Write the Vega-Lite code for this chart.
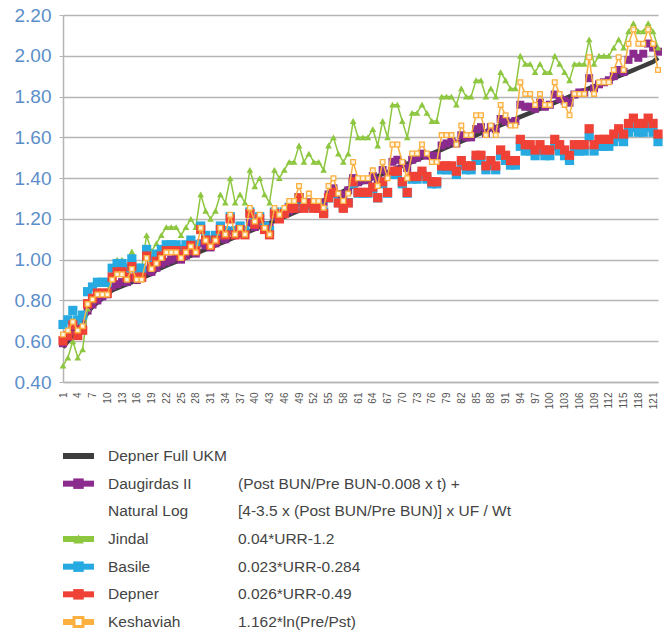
{
"$schema": "https://vega.github.io/schema/vega-lite/v6.json",
"padding": {"left": 14, "top": 6, "right": 4, "bottom": 0},
"background": "white",
"config": {"view": {"stroke": null}, "font": "Liberation Sans", "concat": {"spacing": 40}},
"datasets": {
"kt": [
{"i":1,"ukm":0.57,"daug":0.59,"jin":0.48,"bas":0.682,"dep":0.602,"kes":0.633},
{"i":2,"ukm":0.60,"daug":0.62,"jin":0.52,"bas":0.705,"dep":0.628,"kes":0.653},
{"i":3,"ukm":0.63,"daug":0.65,"jin":0.60,"bas":0.751,"dep":0.680,"kes":0.695},
{"i":4,"ukm":0.66,"daug":0.66,"jin":0.52,"bas":0.705,"dep":0.628,"kes":0.653},
{"i":5,"ukm":0.70,"daug":0.69,"jin":0.56,"bas":0.728,"dep":0.654,"kes":0.674},
{"i":6,"ukm":0.74,"daug":0.75,"jin":0.76,"bas":0.843,"dep":0.784,"kes":0.782},
{"i":7,"ukm":0.77,"daug":0.78,"jin":0.80,"bas":0.866,"dep":0.810,"kes":0.805},
{"i":8,"ukm":0.79,"daug":0.80,"jin":0.84,"bas":0.889,"dep":0.836,"kes":0.829},
{"i":9,"ukm":0.81,"daug":0.82,"jin":0.84,"bas":0.889,"dep":0.836,"kes":0.829},
{"i":10,"ukm":0.83,"daug":0.83,"jin":0.84,"bas":0.889,"dep":0.836,"kes":0.829},
{"i":11,"ukm":0.85,"daug":0.87,"jin":0.96,"bas":0.958,"dep":0.914,"kes":0.902},
{"i":12,"ukm":0.86,"daug":0.88,"jin":1.00,"bas":0.981,"dep":0.940,"kes":0.928},
{"i":13,"ukm":0.87,"daug":0.89,"jin":1.00,"bas":0.981,"dep":0.940,"kes":0.928},
{"i":14,"ukm":0.88,"daug":0.89,"jin":0.96,"bas":0.958,"dep":0.914,"kes":0.902},
{"i":15,"ukm":0.89,"daug":0.91,"jin":1.04,"bas":1.004,"dep":0.966,"kes":0.954},
{"i":16,"ukm":0.90,"daug":0.90,"jin":0.96,"bas":0.958,"dep":0.914,"kes":0.902},
{"i":17,"ukm":0.91,"daug":0.91,"jin":0.96,"bas":0.958,"dep":0.914,"kes":0.902},
{"i":18,"ukm":0.92,"daug":0.95,"jin":1.12,"bas":1.050,"dep":1.018,"kes":1.008},
{"i":19,"ukm":0.93,"daug":0.94,"jin":1.04,"bas":1.004,"dep":0.966,"kes":0.954},
{"i":20,"ukm":0.95,"daug":0.96,"jin":1.08,"bas":1.027,"dep":0.992,"kes":0.981},
{"i":21,"ukm":0.96,"daug":0.98,"jin":1.12,"bas":1.050,"dep":1.018,"kes":1.008},
{"i":22,"ukm":0.97,"daug":0.99,"jin":1.16,"bas":1.073,"dep":1.044,"kes":1.036},
{"i":23,"ukm":0.98,"daug":1.00,"jin":1.16,"bas":1.073,"dep":1.044,"kes":1.036},
{"i":24,"ukm":0.99,"daug":1.01,"jin":1.16,"bas":1.073,"dep":1.044,"kes":1.036},
{"i":25,"ukm":1.00,"daug":1.00,"jin":1.12,"bas":1.050,"dep":1.018,"kes":1.008},
{"i":26,"ukm":1.01,"daug":1.02,"jin":1.16,"bas":1.073,"dep":1.044,"kes":1.036},
{"i":27,"ukm":1.02,"daug":1.04,"jin":1.20,"bas":1.096,"dep":1.070,"kes":1.065},
{"i":28,"ukm":1.03,"daug":1.03,"jin":1.16,"bas":1.073,"dep":1.044,"kes":1.036},
{"i":29,"ukm":1.04,"daug":1.08,"jin":1.32,"bas":1.165,"dep":1.148,"kes":1.155},
{"i":30,"ukm":1.05,"daug":1.07,"jin":1.24,"bas":1.119,"dep":1.096,"kes":1.094},
{"i":31,"ukm":1.06,"daug":1.06,"jin":1.20,"bas":1.096,"dep":1.070,"kes":1.065},
{"i":32,"ukm":1.07,"daug":1.08,"jin":1.24,"bas":1.119,"dep":1.096,"kes":1.094},
{"i":33,"ukm":1.08,"daug":1.11,"jin":1.32,"bas":1.165,"dep":1.148,"kes":1.155},
{"i":34,"ukm":1.09,"daug":1.10,"jin":1.28,"bas":1.142,"dep":1.122,"kes":1.124},
{"i":35,"ukm":1.10,"daug":1.14,"jin":1.40,"bas":1.211,"dep":1.200,"kes":1.220},
{"i":36,"ukm":1.11,"daug":1.12,"jin":1.28,"bas":1.142,"dep":1.122,"kes":1.124},
{"i":37,"ukm":1.12,"daug":1.13,"jin":1.32,"bas":1.165,"dep":1.148,"kes":1.155},
{"i":38,"ukm":1.13,"daug":1.13,"jin":1.28,"bas":1.142,"dep":1.122,"kes":1.124},
{"i":39,"ukm":1.14,"daug":1.18,"jin":1.44,"bas":1.234,"dep":1.226,"kes":1.254},
{"i":40,"ukm":1.15,"daug":1.16,"jin":1.36,"bas":1.188,"dep":1.174,"kes":1.187},
{"i":41,"ukm":1.16,"daug":1.18,"jin":1.40,"bas":1.211,"dep":1.200,"kes":1.220},
{"i":42,"ukm":1.17,"daug":1.17,"jin":1.32,"bas":1.165,"dep":1.148,"kes":1.155},
{"i":43,"ukm":1.18,"daug":1.16,"jin":1.28,"bas":1.142,"dep":1.122,"kes":1.124},
{"i":44,"ukm":1.19,"daug":1.21,"jin":1.44,"bas":1.234,"dep":1.226,"kes":1.254},
{"i":45,"ukm":1.20,"daug":1.21,"jin":1.40,"bas":1.211,"dep":1.200,"kes":1.220},
{"i":46,"ukm":1.21,"daug":1.23,"jin":1.44,"bas":1.234,"dep":1.226,"kes":1.254},
{"i":47,"ukm":1.22,"daug":1.24,"jin":1.48,"bas":1.257,"dep":1.252,"kes":1.288},
{"i":48,"ukm":1.23,"daug":1.25,"jin":1.48,"bas":1.257,"dep":1.252,"kes":1.288},
{"i":49,"ukm":1.24,"daug":1.28,"jin":1.56,"bas":1.303,"dep":1.304,"kes":1.361},
{"i":50,"ukm":1.25,"daug":1.26,"jin":1.48,"bas":1.257,"dep":1.252,"kes":1.288},
{"i":51,"ukm":1.26,"daug":1.28,"jin":1.52,"bas":1.280,"dep":1.278,"kes":1.324},
{"i":52,"ukm":1.27,"daug":1.28,"jin":1.48,"bas":1.257,"dep":1.252,"kes":1.288},
{"i":53,"ukm":1.28,"daug":1.28,"jin":1.48,"bas":1.257,"dep":1.252,"kes":1.288},
{"i":54,"ukm":1.29,"daug":1.28,"jin":1.44,"bas":1.234,"dep":1.226,"kes":1.254},
{"i":55,"ukm":1.305,"daug":1.32,"jin":1.56,"bas":1.303,"dep":1.304,"kes":1.361},
{"i":56,"ukm":1.315,"daug":1.35,"jin":1.60,"bas":1.326,"dep":1.330,"kes":1.399},
{"i":57,"ukm":1.325,"daug":1.32,"jin":1.52,"bas":1.280,"dep":1.278,"kes":1.324},
{"i":58,"ukm":1.335,"daug":1.32,"jin":1.48,"bas":1.257,"dep":1.252,"kes":1.288},
{"i":59,"ukm":1.35,"daug":1.34,"jin":1.52,"bas":1.280,"dep":1.278,"kes":1.324},
{"i":60,"ukm":1.36,"daug":1.40,"jin":1.68,"bas":1.372,"dep":1.382,"kes":1.479},
{"i":61,"ukm":1.37,"daug":1.38,"jin":1.60,"bas":1.326,"dep":1.330,"kes":1.399},
{"i":62,"ukm":1.38,"daug":1.39,"jin":1.60,"bas":1.326,"dep":1.330,"kes":1.399},
{"i":63,"ukm":1.39,"daug":1.39,"jin":1.60,"bas":1.326,"dep":1.330,"kes":1.399},
{"i":64,"ukm":1.40,"daug":1.41,"jin":1.64,"bas":1.349,"dep":1.356,"kes":1.438},
{"i":65,"ukm":1.41,"daug":1.39,"jin":1.56,"bas":1.303,"dep":1.304,"kes":1.361},
{"i":66,"ukm":1.42,"daug":1.44,"jin":1.68,"bas":1.372,"dep":1.382,"kes":1.479},
{"i":67,"ukm":1.43,"daug":1.42,"jin":1.60,"bas":1.326,"dep":1.330,"kes":1.399},
{"i":68,"ukm":1.44,"daug":1.48,"jin":1.76,"bas":1.418,"dep":1.434,"kes":1.565},
{"i":69,"ukm":1.45,"daug":1.49,"jin":1.76,"bas":1.418,"dep":1.434,"kes":1.565},
{"i":70,"ukm":1.46,"daug":1.47,"jin":1.68,"bas":1.372,"dep":1.382,"kes":1.479},
{"i":71,"ukm":1.47,"daug":1.45,"jin":1.60,"bas":1.326,"dep":1.330,"kes":1.399},
{"i":72,"ukm":1.48,"daug":1.49,"jin":1.72,"bas":1.395,"dep":1.408,"kes":1.521},
{"i":73,"ukm":1.49,"daug":1.50,"jin":1.72,"bas":1.395,"dep":1.408,"kes":1.521},
{"i":74,"ukm":1.50,"daug":1.52,"jin":1.76,"bas":1.418,"dep":1.434,"kes":1.565},
{"i":75,"ukm":1.51,"daug":1.51,"jin":1.72,"bas":1.395,"dep":1.408,"kes":1.521},
{"i":76,"ukm":1.52,"daug":1.51,"jin":1.68,"bas":1.372,"dep":1.382,"kes":1.479},
{"i":77,"ukm":1.53,"daug":1.51,"jin":1.68,"bas":1.372,"dep":1.382,"kes":1.479},
{"i":78,"ukm":1.54,"daug":1.56,"jin":1.80,"bas":1.441,"dep":1.460,"kes":1.611},
{"i":79,"ukm":1.55,"daug":1.57,"jin":1.80,"bas":1.441,"dep":1.460,"kes":1.611},
{"i":80,"ukm":1.56,"daug":1.58,"jin":1.80,"bas":1.441,"dep":1.460,"kes":1.611},
{"i":81,"ukm":1.57,"daug":1.57,"jin":1.76,"bas":1.418,"dep":1.434,"kes":1.565},
{"i":82,"ukm":1.58,"daug":1.61,"jin":1.84,"bas":1.464,"dep":1.486,"kes":1.658},
{"i":83,"ukm":1.59,"daug":1.60,"jin":1.80,"bas":1.441,"dep":1.460,"kes":1.611},
{"i":84,"ukm":1.60,"daug":1.60,"jin":1.80,"bas":1.441,"dep":1.460,"kes":1.611},
{"i":85,"ukm":1.61,"daug":1.64,"jin":1.88,"bas":1.487,"dep":1.512,"kes":1.708},
{"i":86,"ukm":1.62,"daug":1.65,"jin":1.88,"bas":1.487,"dep":1.512,"kes":1.708},
{"i":87,"ukm":1.63,"daug":1.62,"jin":1.80,"bas":1.441,"dep":1.460,"kes":1.611},
{"i":88,"ukm":1.64,"daug":1.65,"jin":1.84,"bas":1.464,"dep":1.486,"kes":1.658},
{"i":89,"ukm":1.65,"daug":1.64,"jin":1.80,"bas":1.441,"dep":1.460,"kes":1.611},
{"i":90,"ukm":1.66,"daug":1.69,"jin":1.92,"bas":1.510,"dep":1.538,"kes":1.759},
{"i":91,"ukm":1.67,"daug":1.68,"jin":1.88,"bas":1.487,"dep":1.512,"kes":1.708},
{"i":92,"ukm":1.68,"daug":1.67,"jin":1.84,"bas":1.464,"dep":1.486,"kes":1.658},
{"i":93,"ukm":1.69,"daug":1.68,"jin":1.84,"bas":1.464,"dep":1.486,"kes":1.658},
{"i":94,"ukm":1.70,"daug":1.76,"jin":2.00,"bas":1.556,"dep":1.590,"kes":1.870},
{"i":95,"ukm":1.71,"daug":1.75,"jin":1.96,"bas":1.533,"dep":1.564,"kes":1.813},
{"i":96,"ukm":1.72,"daug":1.75,"jin":1.96,"bas":1.533,"dep":1.564,"kes":1.813},
{"i":97,"ukm":1.73,"daug":1.74,"jin":1.92,"bas":1.510,"dep":1.538,"kes":1.759},
{"i":98,"ukm":1.74,"daug":1.77,"jin":1.96,"bas":1.533,"dep":1.564,"kes":1.813},
{"i":99,"ukm":1.75,"daug":1.75,"jin":1.92,"bas":1.510,"dep":1.538,"kes":1.759},
{"i":100,"ukm":1.76,"daug":1.76,"jin":1.92,"bas":1.510,"dep":1.538,"kes":1.759},
{"i":101,"ukm":1.77,"daug":1.81,"jin":2.00,"bas":1.556,"dep":1.590,"kes":1.870},
{"i":102,"ukm":1.78,"daug":1.79,"jin":1.96,"bas":1.533,"dep":1.564,"kes":1.813},
{"i":103,"ukm":1.79,"daug":1.78,"jin":1.92,"bas":1.510,"dep":1.538,"kes":1.759},
{"i":104,"ukm":1.80,"daug":1.77,"jin":1.88,"bas":1.487,"dep":1.512,"kes":1.708},
{"i":105,"ukm":1.81,"daug":1.81,"jin":1.96,"bas":1.533,"dep":1.564,"kes":1.813},
{"i":106,"ukm":1.82,"daug":1.82,"jin":1.96,"bas":1.533,"dep":1.564,"kes":1.813},
{"i":107,"ukm":1.83,"daug":1.82,"jin":1.96,"bas":1.533,"dep":1.564,"kes":1.813},
{"i":108,"ukm":1.84,"daug":1.89,"jin":2.08,"bas":1.602,"dep":1.642,"kes":1.993},
{"i":109,"ukm":1.85,"daug":1.84,"jin":1.96,"bas":1.533,"dep":1.564,"kes":1.813},
{"i":110,"ukm":1.86,"daug":1.86,"jin":2.00,"bas":1.556,"dep":1.590,"kes":1.870},
{"i":111,"ukm":1.87,"daug":1.87,"jin":2.00,"bas":1.556,"dep":1.590,"kes":1.870},
{"i":112,"ukm":1.88,"daug":1.88,"jin":2.00,"bas":1.556,"dep":1.590,"kes":1.870},
{"i":113,"ukm":1.89,"daug":1.90,"jin":2.04,"bas":1.579,"dep":1.616,"kes":1.930},
{"i":114,"ukm":1.90,"daug":1.93,"jin":2.08,"bas":1.602,"dep":1.642,"kes":1.993},
{"i":115,"ukm":1.91,"daug":1.92,"jin":2.04,"bas":1.579,"dep":1.616,"kes":1.930},
{"i":116,"ukm":1.92,"daug":1.98,"jin":2.12,"bas":1.625,"dep":1.668,"kes":2.059},
{"i":117,"ukm":1.93,"daug":2.01,"jin":2.16,"bas":1.648,"dep":1.694,"kes":2.129},
{"i":118,"ukm":1.94,"daug":1.99,"jin":2.12,"bas":1.625,"dep":1.668,"kes":2.059},
{"i":119,"ukm":1.95,"daug":2.01,"jin":2.12,"bas":1.625,"dep":1.668,"kes":2.059},
{"i":120,"ukm":1.96,"daug":2.06,"jin":2.16,"bas":1.648,"dep":1.694,"kes":2.129},
{"i":121,"ukm":1.97,"daug":2.04,"jin":2.12,"bas":1.625,"dep":1.668,"kes":2.059},
{"i":122,"ukm":1.99,"daug":2.02,"jin":2.04,"bas":1.579,"dep":1.616,"kes":1.930}
],
"leg": [
{"line":"Depner Full UKM","series":"Depner Full UKM","name":"Depner Full UKM","formula":""},
{"line":"Daugirdas II","series":"Daugirdas II","name":"Daugirdas II","formula":"(Post BUN/Pre BUN-0.008 x t) +"},
{"line":"Natural Log","series":null,"name":"Natural Log","formula":"[4-3.5 x (Post BUN/Pre BUN)] x UF / Wt"},
{"line":"Jindal","series":"Jindal","name":"Jindal","formula":"0.04*URR-1.2"},
{"line":"Basile","series":"Basile","name":"Basile","formula":"0.023*URR-0.284"},
{"line":"Depner","series":"Depner","name":"Depner","formula":"0.026*URR-0.49"},
{"line":"Keshaviah","series":"Keshaviah","name":"Keshaviah","formula":"1.162*ln(Pre/Pst)"}
]
},
"vconcat": [
{
"width": 595,
"height": 367,
"data": {"name": "kt"},
"encoding": {
"x": {"field": "i", "type": "quantitative", "title": null,
"scale": {"domain": [1, 122], "nice": false, "zero": false},
"axis": {"values": [1,4,7,10,13,16,19,22,25,28,31,34,37,40,43,46,49,52,55,58,61,64,67,70,73,76,79,82,85,88,91,94,97,100,103,106,109,112,115,118,121],
"labelAngle": -90, "labelFontSize": 10, "labelColor": "#555555", "ticks": false, "labelPadding": 10,
"labelOverlap": false, "labelFlush": false, "domainColor": "#b5b5b5", "domainWidth": 1.5, "grid": false}}
},
"layer": [
{"mark": {"type": "line", "color": "#3d3d3d", "strokeWidth": 4.5},
"encoding": {"y": {"field": "ukm", "type": "quantitative", "title": null,
"scale": {"domain": [0.4, 2.2], "nice": false, "zero": false},
"axis": {"values": [0.4,0.6,0.8,1.0,1.2,1.4,1.6,1.8,2.0,2.2], "format": ".2f",
"labelFontSize": 19, "labelColor": "#5b8ec9", "labelPadding": 8, "tickSize": 4, "tickColor": "#b5b5b5",
"domainColor": "#b5b5b5", "domainWidth": 1.5, "grid": true, "gridColor": "#b5b5b5", "gridWidth": 1.5}}}},
{"mark": {"type": "point", "shape": "square", "filled": true, "size": 64, "color": "#8b2b8e", "opacity": 1},
"encoding": {"y": {"field": "daug", "type": "quantitative", "title": null}}},
{"mark": {"type": "line", "color": "#8dc63f", "strokeWidth": 1.5},
"encoding": {"y": {"field": "jin", "type": "quantitative", "title": null}}},
{"mark": {"type": "point", "shape": "triangle-up", "filled": true, "size": 45, "color": "#8dc63f", "opacity": 1},
"encoding": {"y": {"field": "jin", "type": "quantitative", "title": null}}},
{"mark": {"type": "point", "shape": "square", "filled": true, "size": 85, "color": "#27aae1", "opacity": 1},
"encoding": {"y": {"field": "bas", "type": "quantitative", "title": null}}},
{"mark": {"type": "point", "shape": "square", "filled": true, "size": 85, "color": "#ef4136", "opacity": 1},
"encoding": {"y": {"field": "dep", "type": "quantitative", "title": null}}},
{"mark": {"type": "line", "color": "#fbb040", "strokeWidth": 1.5},
"encoding": {"y": {"field": "kes", "type": "quantitative", "title": null}}},
{"mark": {"type": "point", "shape": "square", "filled": true, "fill": "#fff4e0", "stroke": "#fbb040", "strokeWidth": 1.3, "size": 22, "opacity": 1},
"encoding": {"y": {"field": "kes", "type": "quantitative", "title": null}}}
]
},
{
"width": 595,
"height": 166,
"data": {"name": "leg"},
"encoding": {
"y": {"field": "line", "type": "nominal", "axis": null,
"scale": {"type": "point", "padding": 0, "domain": ["Depner Full UKM","Daugirdas II","Natural Log","Jindal","Basile","Depner","Keshaviah"]}}
},
"layer": [
{"transform": [{"filter": "datum.series != null"}],
"mark": {"type": "rule", "strokeWidth": 6},
"encoding": {
"x": {"datum": 0, "type": "quantitative", "scale": {"domain": [0, 595], "nice": false, "zero": false}, "axis": null},
"x2": {"datum": 31},
"color": {"field": "series", "type": "nominal", "legend": null,
"scale": {"domain": ["Depner Full UKM","Daugirdas II","Jindal","Basile","Depner","Keshaviah"], "range": ["#3d3d3d","#8b2b8e","#8dc63f","#27aae1","#ef4136","#fbb040"]}}}},
{"transform": [{"filter": "datum.series != null && datum.series != 'Depner Full UKM' && datum.series != 'Keshaviah'"}],
"mark": {"type": "point", "filled": true, "opacity": 1, "size": 110},
"encoding": {
"x": {"datum": 15.5, "type": "quantitative"},
"color": {"field": "series", "type": "nominal", "legend": null},
"shape": {"field": "series", "type": "nominal", "legend": null,
"scale": {"domain": ["Daugirdas II","Jindal","Basile","Depner"], "range": ["square","triangle-up","square","square"]}}}},
{"transform": [{"filter": "datum.series == 'Keshaviah'"}],
"mark": {"type": "point", "shape": "square", "filled": true, "fill": "#ffffff", "stroke": "#fbb040", "strokeWidth": 3, "size": 80, "opacity": 1},
"encoding": {"x": {"datum": 15.5, "type": "quantitative"}}},
{"mark": {"type": "text", "align": "left", "baseline": "middle", "fontSize": 15.5, "color": "#444444"},
"encoding": {"x": {"datum": 45, "type": "quantitative"}, "text": {"field": "name"}}},
{"mark": {"type": "text", "align": "left", "baseline": "middle", "fontSize": 15.5, "color": "#444444"},
"encoding": {"x": {"datum": 175, "type": "quantitative"}, "text": {"field": "formula"}}}
]
}
]
}
